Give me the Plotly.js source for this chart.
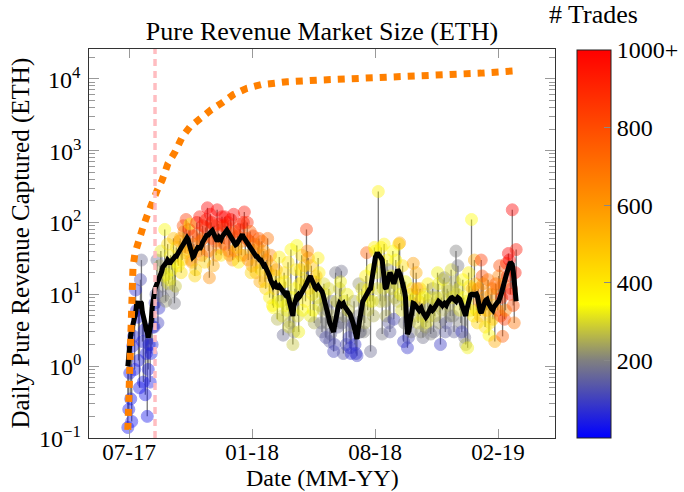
<!DOCTYPE html>
<html>
<head>
<meta charset="utf-8">
<script src="https://cdn.plot.ly/plotly-3.0.1.min.js"></script>
<style>
  html, body { margin: 0; padding: 0; background: #fff; }
  #chart { width: 684px; height: 492px; }
</style>
</head>
<body>
<div id="chart"></div>
<script>
// ---- Data ----
// Series A: one sample every 3 days from sampleStartA
// Series B: one sample every 3 days from sampleStartB (in between the A samples)
const sampleStartA = '2017-07-23T00:00:00Z';
const sampleStartB = '2017-07-24T12:00:00Z';
const sampleStepDays = 3;

// Daily pure revenue (ETH)
const revenueA = [
  0.14, 0.8, 0.17, 2.6, 11.5, 4.8, 0.5, 30, 0.6, 0.4,
  0.2, 2, 1.5, 3.5, 7.6, 30, 6.4, 40, 9.2, 80,
  19, 14, 35, 11, 7.5, 45, 25, 60, 30, 75,
  110, 40, 95, 28, 50, 22, 70, 120, 35, 60,
  85, 160, 17, 100, 25, 55, 150, 70, 35, 90,
  120, 60, 40, 110, 30, 75, 45, 28, 95, 55,
  140, 60, 30, 75, 25, 50, 20, 45, 15, 55,
  40, 12, 60, 9, 25, 6.5, 18, 4.5, 33, 8,
  2.7, 15, 6, 3.5, 42, 2, 12, 48, 3, 22,
  6, 25, 80, 32, 5, 10, 4, 18, 32, 7,
  3, 14, 2.5, 6, 2.2, 8, 1.6, 20, 3.5, 12,
  21, 1.5, 5, 10, 2.5, 1.5, 4, 2, 1.4, 14,
  3, 9, 4, 38, 12, 1.6, 8, 45, 20, 270,
  8, 2.8, 50, 5, 22, 3, 12, 4.5, 30, 8,
  52, 6, 2.2, 15, 1.8, 4, 3, 27, 9, 12,
  8, 3, 2.5, 10, 4, 7, 2.8, 12, 5, 9,
  14, 2, 6, 17, 4, 11, 5, 9, 3, 40,
  25, 6, 3, 9, 2, 1.8, 13, 110, 5, 14,
  4, 8, 30, 14, 3.5, 6, 2.7, 10, 4.5, 2.2,
  12, 18, 5, 2.6, 4.5, 27, 37, 10, 150, 4, 42
];
const revenueB = [
  0.25, 0.35, 1.9, 0.9, 6, 1.2, 16, 2.2, 3.2, 1.5,
  0.9, 0.6, 2, 3.5, 10, 4, 25, 13, 18, 8,
  50, 16, 22, 60, 13, 28, 55, 20, 90, 38,
  45, 80, 30, 65, 18, 100, 40, 55, 90, 28,
  110, 40, 130, 60, 90, 35, 95, 45, 120, 50,
  90, 100, 35, 70, 130, 40, 65, 80, 35, 100,
  35, 100, 55, 20, 65, 40, 28, 60, 22, 35,
  15, 30, 20, 35, 7, 12, 22, 8, 14, 5,
  20, 7, 28, 4, 9, 3, 22, 5, 14, 35,
  16, 8, 40, 12, 25, 6, 15, 9, 20, 4,
  6, 10, 4, 12, 2.8, 5, 2, 8, 4, 15,
  4, 8, 2, 6, 1.8, 3.5, 8, 1.5, 5, 3,
  12, 3, 18, 6, 8, 22, 5, 40, 12, 30,
  45, 12, 8, 30, 4, 18, 40, 9, 14, 50,
  10, 25, 4, 8, 2.5, 10, 12, 5, 20, 4,
  12, 5, 9, 3.5, 14, 5, 9, 3, 7, 20,
  4, 9, 16, 3, 12, 7, 22, 5, 15, 10,
  12, 4, 16, 2.5, 8, 20, 6, 12, 30, 6,
  12, 5, 18, 9, 6, 16, 4, 12, 7, 14,
  6, 25, 9, 14, 6, 18, 30, 12, 7, 20
];

// Number of trades for each sample (colour)
const tradesA = [
  20, 30, 25, 50, 70, 45, 30, 170, 35, 30,
  30, 55, 45, 70, 100, 170, 80, 320, 180, 340,
  330, 300, 380, 200, 190, 420, 350, 550, 450, 650,
  850, 500, 360, 600, 700, 450, 800, 950, 650, 750,
  900, 1000, 620, 950, 550, 800, 1000, 850, 400, 900,
  1000, 800, 750, 950, 600, 850, 500, 380, 900, 650,
  950, 800, 650, 750, 550, 700, 500, 650, 550, 700,
  600, 450, 700, 380, 550, 350, 420, 260, 380, 300,
  170, 380, 320, 300, 360, 280, 350, 340, 330, 400,
  350, 500, 850, 600, 320, 380, 250, 550, 380, 300,
  180, 300, 130, 200, 150, 170, 110, 190, 160, 280,
  180, 140, 220, 330, 100, 70, 150, 80, 90, 220,
  200, 330, 250, 750, 380, 170, 330, 380, 300, 370,
  280, 190, 370, 250, 210, 150, 300, 120, 360, 260,
  560, 300, 90, 330, 80, 170, 200, 580, 400, 600,
  480, 220, 180, 320, 300, 260, 200, 230, 280, 300,
  330, 90, 250, 200, 150, 270, 220, 300, 160, 200,
  190, 300, 100, 350, 250, 330, 400, 350, 380, 500,
  450, 650, 850, 620, 420, 550, 350, 600, 500, 550,
  700, 650, 800, 750, 850, 900, 1000, 950, 1000, 700, 950
];
const tradesB = [
  25, 25, 40, 35, 55, 40, 120, 45, 60, 40,
  35, 40, 60, 90, 150, 100, 250, 200, 300, 220,
  420, 320, 330, 500, 280, 380, 600, 420, 800, 500,
  700, 900, 550, 800, 450, 950, 600, 700, 900, 450,
  950, 700, 1000, 800, 900, 600, 950, 650, 1000, 750,
  900, 950, 600, 800, 1000, 650, 800, 850, 550, 950,
  550, 900, 750, 450, 800, 600, 550, 750, 450, 600,
  500, 600, 500, 650, 380, 450, 550, 350, 420, 300,
  420, 350, 400, 250, 330, 220, 400, 300, 380, 420,
  420, 380, 650, 450, 500, 350, 400, 300, 380, 200,
  250, 320, 200, 300, 160, 250, 120, 300, 200, 330,
  180, 300, 120, 280, 90, 160, 250, 70, 200, 150,
  300, 200, 380, 280, 300, 350, 250, 350, 300, 400,
  380, 300, 250, 350, 150, 330, 350, 260, 300, 360,
  350, 420, 200, 300, 120, 330, 450, 250, 550, 300,
  500, 300, 350, 250, 380, 260, 300, 180, 280, 330,
  220, 300, 330, 150, 280, 250, 300, 200, 250, 300,
  300, 200, 350, 180, 330, 380, 420, 500, 550, 400,
  650, 500, 800, 600, 450, 700, 400, 650, 550, 750,
  700, 800, 850, 700, 650, 900, 1000, 900, 800, 950
];

// Moving average of daily revenue (black line)
const avgA = [
  1.0, 2.2, 3.2, 4.5, 5.5, 8, 6.5, 7.5, 4.5, 3.8,
  3.0, 2.8, 4, 9, 12, 14, 16, 20, 24, 26,
  28, 29, 28, 30, 32, 34, 38, 42, 46, 52,
  56, 58, 48, 36, 34, 40, 45, 42, 48, 55,
  62, 66, 70, 75, 72, 62, 55, 62, 58, 66,
  74, 78, 70, 62, 58, 52, 50, 55, 62, 68,
  60, 54, 48, 45, 40, 36, 34, 32, 30, 28,
  25, 24, 21, 18, 15, 13, 14, 12, 13, 12,
  11, 10, 11, 8, 6, 5, 8, 9.5, 9, 10,
  11, 12.5, 14, 16, 18, 15, 13, 12, 13, 12,
  11, 9, 7, 5.5, 4, 3.5, 3, 4.5, 6, 7.5,
  7, 7.5, 6.5, 6, 5.5, 5, 4, 3, 2.4, 4,
  6.5, 8, 9, 10, 11, 12, 20, 30, 35, 36,
  34, 30, 14, 12, 16, 20, 17, 14, 18, 22,
  20, 16, 13, 9, 2.8, 3.5, 6, 7.5, 7, 6.5,
  6, 6.5, 5.5, 5, 5, 5.5, 6.5, 6, 6.5, 7.5,
  8, 7.5, 7, 7.5, 7, 8, 8.5, 9, 8.5, 8,
  9, 8.5, 7, 5.5, 5, 7, 9.5, 10, 10, 10,
  9.5, 6, 5.5, 7, 8, 8.5, 7, 6.5, 6, 7,
  7.5, 8, 9, 12, 16, 19, 24, 28, 26, 16, 8
];
const avgB = [
  1.6, 2.8, 3.6, 5.2, 7.2, 7, 7.8, 5.6, 4, 3.2,
  2.5, 3.4, 6.5, 10.5, 13, 15, 18, 21, 25.5, 27,
  30, 26.5, 29.5, 30.5, 34, 35, 40, 44, 49, 54,
  61, 52, 40, 33, 39, 42, 47, 44, 53, 57,
  66, 67, 74, 77, 66, 57, 58, 60, 63, 71,
  79, 74, 67, 59, 55, 49, 53, 58, 67, 63,
  58, 50, 48, 41, 39, 34, 34, 30, 30, 26,
  25.5, 22, 20, 16, 14, 13.5, 13, 12.5, 12.5, 11.5,
  10.5, 10.5, 9.5, 7, 5.2, 6.8, 8.8, 9.8, 9.3, 10.6,
  11.5, 13.2, 15, 17.5, 16.5, 14, 12.4, 12.8, 12.4, 11.6,
  10, 8, 6.2, 4.7, 3.7, 3.2, 3.7, 5.1, 6.9, 7.2,
  7.3, 6.9, 6.3, 5.7, 5.3, 4.4, 3.5, 2.6, 3.1, 5,
  7.3, 8.4, 9.6, 10.4, 11.8, 15, 26, 33, 38, 35,
  32, 22, 12.5, 13.5, 18.5, 19, 15, 15.5, 20.5, 21,
  18, 14.5, 11, 5, 3, 4.6, 6.8, 7.4, 6.8, 6.2,
  6.3, 5.9, 5.2, 4.8, 5.4, 6, 6.3, 6.2, 7.1, 7.8,
  7.8, 7.1, 7.3, 7.2, 7.6, 8.2, 8.9, 8.7, 8.2, 8.6,
  8.8, 7.8, 6.2, 5.1, 6.1, 8.2, 9.8, 10.2, 9.8, 10.1,
  7.5, 5.8, 6.3, 7.5, 8.3, 7.7, 6.8, 6.2, 6.6, 7.2,
  7.8, 8.6, 10.5, 14, 17.5, 21, 26, 27, 21, 12
];

// Cumulative pure revenue (orange dotted line)
const cumDates = [
  '2017-07-23','2017-07-24','2017-07-25','2017-07-26','2017-07-27','2017-07-28',
  '2017-07-29','2017-07-30','2017-07-31','2017-08-03','2017-08-08','2017-08-15',
  '2017-08-22','2017-08-29','2017-09-06','2017-09-14','2017-09-23','2017-10-04',
  '2017-10-15','2017-10-27','2017-11-12','2017-11-29','2017-12-16','2018-01-02',
  '2018-01-23','2018-02-14','2018-03-07','2018-03-26','2018-05-15','2018-08-01',
  '2018-11-17','2019-01-20','2019-03-18'
];
const cumValues = [
  0.13, 0.25, 0.6, 1.5, 3.7, 6,
  9.5, 15, 24, 37, 57, 84,
  126, 188, 276, 390, 660, 960,
  1550, 2140, 2880, 3720, 4670, 6030,
  7400, 8300, 8700, 9100, 9600, 10200,
  11200, 12000, 13000
];

// Vertical marker date (pink dashed line)
const markerDate = '2017-09-03';

// Axis ticks and texts
const xTickVals = ['2017-07-25', '2018-01-31', '2018-08-09', '2019-02-15'];
const xTickText = ['07-17', '01-18', '08-18', '02-19'];
const yTickVals = [0.1, 1, 10, 100, 1000, 10000];
const yTickText = ['10<sup>−1</sup>', '10<sup>0</sup>', '10<sup>1</sup>', '10<sup>2</sup>', '10<sup>3</sup>', '10<sup>4</sup>'];
const cbTickVals = [200, 400, 600, 800, 1000];
const cbTickText = ['200', '400', '600', '800', '1000+'];
const chartTitle = 'Pure Revenue Market Size (ETH)';
const xTitle = 'Date (MM-YY)';
const yTitle = 'Daily Pure Revenue Captured (ETH)';
const cbTitle = '# Trades';

// ---- Build (merge A and B samples in date order) ----
const DAY = 86400000;
const fmt = ms => new Date(ms).toISOString().slice(0, 16).replace('T', ' ');
const t0A = Date.parse(sampleStartA), t0B = Date.parse(sampleStartB);
const dates = [], revenue = [], trades = [], movingAvg = [];
for (let i = 0; i < revenueA.length; i++) {
  dates.push(fmt(t0A + i * sampleStepDays * DAY)); revenue.push(revenueA[i]); trades.push(tradesA[i]); movingAvg.push(avgA[i]);
  if (i < revenueB.length) {
    dates.push(fmt(t0B + i * sampleStepDays * DAY)); revenue.push(revenueB[i]); trades.push(tradesB[i]); movingAvg.push(avgB[i]);
  }
}

const stemX = [], stemY = [];
dates.forEach((d, i) => { stemX.push(d, d, null); stemY.push(revenue[i], movingAvg[i], null); });

const minorVals = [];
for (let e = -1; e <= 4; e++) for (let m = 2; m <= 9; m++) minorVals.push(m * Math.pow(10, e));

const cscale = [
  [0.0, 'rgb(0,0,255)'],
  [0.2, 'rgb(128,128,128)'],
  [0.345, 'rgb(255,255,0)'],
  [0.6, 'rgb(255,150,0)'],
  [1.0, 'rgb(255,0,0)']
];

const traces = [
  { x: stemX, y: stemY, type: 'scatter', mode: 'lines',
    line: { color: 'rgba(95,95,95,0.85)', width: 1.3 }, hoverinfo: 'skip' },
  { x: dates, y: revenue, type: 'scatter', mode: 'markers',
    marker: { size: 12, color: trades, colorscale: cscale, cmin: 0, cmax: 1000, opacity: 0.42,
      line: { width: 1, color: trades, colorscale: cscale, cmin: 0, cmax: 1000 },
      colorbar: {
        x: 577 / 684, xref: 'container', xanchor: 'left', xpad: 0,
        y: 0, yanchor: 'bottom', ypad: 0,
        len: 388, lenmode: 'pixels', thickness: 34, thicknessmode: 'pixels',
        outlinewidth: 1, outlinecolor: '#222',
        tickmode: 'array', tickvals: cbTickVals, ticktext: cbTickText,
        ticks: 'inside', ticklen: 7, tickcolor: '#888',
        tickfont: { size: 24 }
      } } },
  { x: dates, y: movingAvg, type: 'scatter', mode: 'lines',
    line: { color: '#000', width: 5 } },
  { x: cumDates, y: cumValues, type: 'scatter', mode: 'lines',
    line: { color: 'rgb(255,128,0)', width: 7, dash: '7px,7px' } }
];

const titleFont = { size: 26 };
const axisTitleFont = { size: 24 };
const plotL = 89, plotR = 555, plotT = 49, plotB = 438;
const pw = plotR - plotL, ph = plotB - plotT;

const annotations = [];
// y tick labels (log axis: annotation y in log10 units)
yTickVals.forEach((v, i) => annotations.push({
  text: yTickText[i], xref: 'paper', yref: 'y', x: 0, y: Math.log10(v),
  xanchor: 'right', yanchor: 'middle', xshift: -6, yshift: 1, showarrow: false, font: { size: 24 }
}));
// axis titles and colourbar title
annotations.push({
  text: xTitle, xref: 'paper', yref: 'paper', x: 0.5, y: (plotB - 478) / ph, borderpad: 0,
  xanchor: 'center', yanchor: 'middle', showarrow: false, font: axisTitleFont
});
annotations.push({
  text: yTitle, xref: 'paper', yref: 'paper', x: (20 - plotL) / pw, y: 0.5, textangle: -90,
  xanchor: 'center', yanchor: 'middle', showarrow: false, font: { size: 25 }
});
annotations.push({
  text: cbTitle, xref: 'paper', yref: 'paper', x: (593 - plotL) / pw, y: (plotB - 14) / ph,
  xanchor: 'center', yanchor: 'middle', showarrow: false, font: titleFont
});

const layout = {
  width: 684, height: 492,
  margin: { l: plotL, r: 684 - plotR, t: plotT, b: 492 - plotB, pad: 0 },
  paper_bgcolor: '#fff', plot_bgcolor: '#fff',
  font: { family: '"Liberation Serif", serif', size: 24, color: '#000' },
  showlegend: false,
  title: { text: chartTitle, font: titleFont,
    xref: 'paper', x: 0.5, xanchor: 'center', yref: 'container', y: 1 - 31 / 492, yanchor: 'middle' },
  xaxis: {
    type: 'date', range: ['2017-05-24', '2019-05-14'],
    tickmode: 'array', tickvals: xTickVals, ticktext: xTickText, tickfont: { size: 23 },
    ticks: 'inside', ticklen: 9, tickcolor: '#999', tickwidth: 1, ticklabelstandoff: -7,
    showline: true, linecolor: '#333', linewidth: 1.2, mirror: 'ticks',
    showgrid: false, zeroline: false
  },
  yaxis: {
    type: 'log', range: [-1, 4.415],
    tickmode: 'array', tickvals: yTickVals, showticklabels: false,
    ticks: 'inside', ticklen: 10, tickcolor: '#999', tickwidth: 1,
    minor: { tickmode: 'array', tickvals: minorVals, ticks: 'inside', ticklen: 6, tickcolor: '#999' },
    showline: true, linecolor: '#333', linewidth: 1.2, mirror: 'allticks',
    showgrid: false, zeroline: false
  },
  shapes: [{
    type: 'line', xref: 'x', yref: 'paper', x0: markerDate, x1: markerDate, y0: 0, y1: 1,
    line: { color: 'rgba(255,185,190,0.95)', width: 3.5, dash: '7px,5px' }, layer: 'above'
  }],
  annotations: annotations
};

Plotly.newPlot('chart', traces, layout, { displayModeBar: false, staticPlot: true });
</script>
</body>
</html>
